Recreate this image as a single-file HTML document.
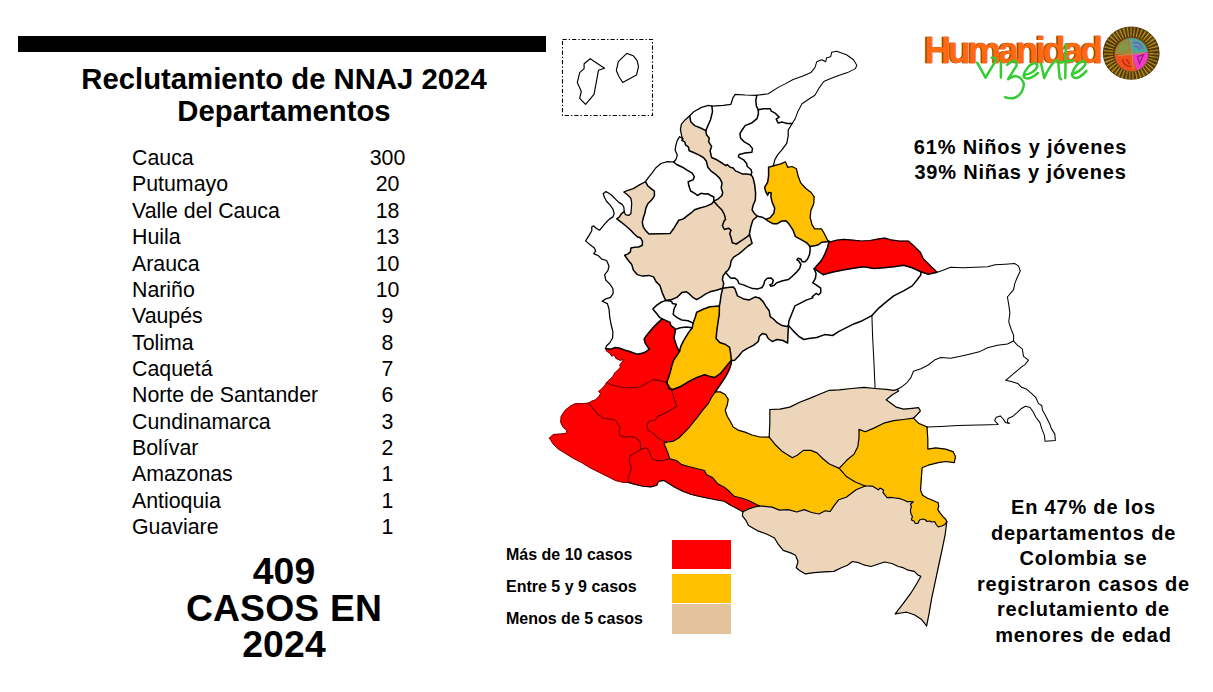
<!DOCTYPE html>
<html><head><meta charset="utf-8">
<style>
html,body{margin:0;padding:0;background:#fff;}
body{width:1213px;height:692px;position:relative;overflow:hidden;font-family:"Liberation Sans",sans-serif;color:#000;}
.abs{position:absolute;white-space:nowrap;}
#bar{left:18px;top:36px;width:528px;height:16px;background:#000;}
#title{left:0;width:568px;top:62.8px;text-align:center;font-weight:bold;font-size:29.3px;line-height:32px;}
#tbl{left:132px;top:145.1px;font-size:21.33px;line-height:26.36px;}
#nums{left:337.5px;width:100px;top:145.1px;font-size:21.33px;line-height:26.36px;text-align:center;}
#big{left:84px;width:400px;top:553.3px;text-align:center;font-weight:bold;font-size:37.33px;letter-spacing:0.15px;line-height:36.4px;}
.leg{font-weight:bold;font-size:16px;line-height:20px;left:506px;}
.sw{left:672px;width:59px;}
#pct{left:865.5px;width:310px;top:135px;text-align:center;font-weight:bold;font-size:20px;letter-spacing:0.81px;line-height:25.1px;}
#note{left:933.5px;width:300px;top:495.1px;text-align:center;font-weight:bold;font-size:20px;letter-spacing:0.81px;line-height:25.56px;}
</style></head><body>
<div id="bar" class="abs"></div>
<div id="title" class="abs">Reclutamiento de NNAJ 2024<br>Departamentos</div>
<div id="tbl" class="abs">Cauca<br>Putumayo<br>Valle del Cauca<br>Huila<br>Arauca<br>Nariño<br>Vaupés<br>Tolima<br>Caquetá<br>Norte de Santander<br>Cundinamarca<br>Bolívar<br>Amazonas<br>Antioquia<br>Guaviare</div>
<div id="nums" class="abs">300<br>20<br>18<br>13<br>10<br>10<br>9<br>8<br>7<br>6<br>3<br>2<br>1<br>1<br>1</div>
<div id="big" class="abs">409<br>CASOS EN<br>2024</div>
<div class="abs leg" style="top:545.2px">Más de 10 casos</div>
<div class="abs leg" style="top:577.2px">Entre 5 y 9 casos</div>
<div class="abs leg" style="top:609px">Menos de 5 casos</div>
<div class="abs sw" style="top:540px;height:29px;background:#ff0000"></div>
<div class="abs sw" style="top:574px;height:29px;background:#ffc000"></div>
<div class="abs sw" style="top:604px;height:30px;background:#e4c29c"></div>
<div id="pct" class="abs">61% Niños y jóvenes<br>39% Niñas y jóvenes</div>
<div id="note" class="abs">En 47% de los<br>departamentos de<br>Colombia se<br>registraron casos de<br>reclutamiento de<br>menores de edad</div>
<svg class="abs" style="left:0;top:0" width="1213" height="692" viewBox="0 0 1213 692">
<rect x="562.5" y="39.5" width="90" height="76" fill="none" stroke="#000" stroke-width="1.1" stroke-dasharray="4.2 2 1.4 2"/>
<polygon fill="#ecd5b9" stroke="#ecd5b9" stroke-width="0.6" points="689.7,115.7 685.3,119.7 681.4,124.1 680.4,129.6 681.8,136.5 682.8,138.8 681.8,140.4 684.8,141.9 685.5,144.9 688.5,147.1 689.2,150.8 693,152.3 698.2,154.6 703.4,157.5 706.4,161.3 707.8,167.2 710.8,170.9 716,174.7 719.8,178.4 722,182.9 721.2,188.1 722.7,192.5 722,195.5 718.3,198.8 713.8,201.2 717.7,205.7 721.7,209.7 724.3,214.3 725.6,219.6 724.4,220.3 722.4,225.6 724.4,229.5 728.4,228.2 731,230.2 729.7,233.5 731,237.4 732.3,242.7 736.3,244 742.2,240.1 746.2,237.4 749.5,234.8 749.5,233.5 750.8,226.9 752.8,220.3 757.3,216.2 754.7,213.8 752.1,209.8 753,205.5 755.3,200.3 755.6,193.4 754.7,184.7 753,177.7 751,174.7 746.6,173.9 742.1,173.9 739.1,172.4 735.4,170.9 733.2,168 730.2,167.2 727.2,164.5 725.7,165.7 722.7,163.5 716.8,159.8 711.6,157.5 710.1,150.8 711.6,146.4 708.6,141.9 709.3,138.2 706.4,134.5 705.8,130.6 700.6,128 694.7,125.6 690.7,121.7 689.7,115.7"/>
<polygon fill="#ecd5b9" stroke="#ecd5b9" stroke-width="0.6" points="645.5,181.7 639.9,184.6 633.3,188.6 628,190.3 623.8,192.1 627.4,194.8 630.9,198.2 631.7,203.1 631.3,209 630.9,213.6 628.7,215.4 625.4,214.6 624.3,211.7 621.4,213.6 619.5,216.9 616.8,218.9 620.8,221.9 625.4,225.5 630,229.5 634,233.8 637.3,236.7 640.6,238 642.5,241.3 642.3,245.3 638.6,247 634.6,247.3 630.9,247.9 630.4,251.9 628,253.9 624.7,255.2 627.8,259.7 631.7,264.4 633.3,269.9 637.2,274.6 642.7,276.1 648.9,275.4 653.6,276.9 656,281.6 659.9,285.5 662.2,292.6 664.6,298.1 665.8,300.4 671.6,299.6 677.1,297.3 681.8,292.6 686.5,291.8 689.6,294.2 692.8,297.3 696.7,299.6 700.6,297.3 705.3,294.2 710,291.8 716.3,290.2 722.7,288.2 723.7,283.6 722.4,279.6 723.1,275.7 725.7,272.4 728.4,269.7 730.3,265.8 731,261.2 733.6,257.2 738.9,253.9 743.5,250 748.1,246 752.1,243.4 750.8,238.7 749.5,234.8 746.2,237.4 742.2,240.1 736.3,244 732.3,242.7 731,237.4 729.7,233.5 731,230.2 728.4,228.2 724.4,229.5 722.4,225.6 724.4,220.3 725.6,219.6 724.3,214.3 721.7,209.7 717.7,205.7 713.8,201.2 711.8,203.7 705.9,206.4 699.9,208 694.6,209.7 691.4,212.7 687.4,215.6 683.4,218.9 678.8,220.2 676.8,223.5 673.5,228.8 670.2,233.4 659.7,233.8 649.1,234.1 645.8,230.8 643.2,226.8 642.3,222.2 643.2,218.3 644.9,213 645.8,208.4 647.8,203.7 651.8,199.8 654.4,195.8 654.4,191.2 651.1,188.6 647.8,185.9 645.5,181.7"/>
<polygon fill="#ffc000" stroke="#ffc000" stroke-width="0.6" points="773.3,165.9 780.8,163.9 785.4,161.8 787.7,167.3 792,166.5 796.4,168.7 798.1,176 800.7,182.9 805.9,188.5 811.1,192.5 814.2,196.8 813.7,203.8 810.8,210.7 810.2,217.6 812,224.6 814.6,228.9 821.5,228.9 824.1,233.2 827.6,240.2 829.1,241.4 821.5,242.3 818,245 814.6,245.7 810,246.6 806.8,242.8 800.7,239.3 795.5,236.7 792.9,229.8 789.4,224.6 786,220.8 781.6,221.1 777.3,223.7 772.9,223.7 768.6,221.4 766,219.4 770.3,217.6 773.8,213.3 774.7,208.1 772.1,202 770.9,196.8 771.2,193 768.6,192.5 767.7,195.4 765.7,191.6 764.6,187.3 767.7,182.1 768.6,176 768.6,167.3 773.3,165.9"/>
<polygon fill="#ff0000" stroke="#ff0000" stroke-width="0.6" points="829.1,241.4 830.2,241.9 837.1,240.2 844,239.3 852.7,240.2 861.4,241 870.1,240.5 878.7,238.8 884.8,238.1 890.9,239.8 899.5,241 908.2,241 913.4,245.4 920.3,252.3 923.3,258.7 930.8,266.1 937.2,272.3 928.3,274.2 920.9,271.8 912.2,267.8 903.6,265.3 893.7,266.8 883.8,267.8 873.9,268.5 864,266.8 856.6,267.8 844.2,269.8 831.8,272.3 823.2,274.7 814.2,268.7 817.4,265.1 821.4,260.5 824.6,254.6 827.3,248 829.1,241.4"/>
<polygon fill="#ecd5b9" stroke="#ecd5b9" stroke-width="0.6" points="722.7,288.2 721,295.7 720.2,302 719.4,305.9 719.3,313.8 718.1,321.7 716.7,331.6 716.1,338.5 719.7,342.5 725.6,344.5 729.6,347.4 730.6,353.4 731.4,360.4 734.6,360.3 738.5,356.3 742.5,351.4 747.4,348.4 753.4,345.4 758.3,341.5 759.3,336.5 762.3,333.6 766.2,334.6 768.2,338.5 772.2,341.5 777.1,339.5 783.1,340.5 787.6,343.1 788,333.6 788.4,325.6 787,326.6 782.1,325.6 777.1,322.7 774.2,319.7 770.2,316.7 769.2,310.8 766.2,306.8 763.3,301.9 759.3,297.9 755.3,296.9 749.4,299.9 743.5,298.9 737.5,295.9 735,288.9 733,286.9 727.7,287.5 722.7,288.2"/>
<polygon fill="#ffc000" stroke="#ffc000" stroke-width="0.6" points="693.1,323.1 695.1,317.7 696.7,312.2 703.7,309 710,306.7 719.4,305.9 719.3,313.8 718.1,321.7 716.7,331.6 716.1,338.5 719.7,342.5 725.6,344.5 729.6,347.4 730.6,353.4 731.4,360.4 729.2,362.8 725.2,367.7 720.3,373.7 714.4,377.6 710.4,376.6 704.5,374.7 696.5,377.6 688.6,381.6 680.7,386.5 672.8,389.5 668.8,388.5 666.8,382.6 667.8,379.6 669.8,373.7 671.8,365.7 673.8,359.8 676.7,355.8 679.5,351.3 681,345.8 684.2,339.6 688.1,333.3 692.2,327.8 693.1,323.1"/>
<polygon fill="#ff0000" stroke="#ff0000" stroke-width="0.6" points="605.5,348.5 606.7,351.2 609.8,353.2 611.8,356.2 614.3,354.7 615.8,358.3 619.9,360.3 623.9,359.3 621.9,362.3 619.9,364.8 620.4,367.4 617.8,369.9 614.8,372.9 612.8,376.5 609.8,379.5 606.6,382.6 613.4,385.5 623.3,387.5 633.2,387.9 641.1,386.5 648,382.6 653,379.6 659.9,380.6 666.8,382.6 667.8,379.6 669.8,373.7 671.8,365.7 673.8,359.8 676.7,355.8 679.5,351.3 677.1,347.4 675.5,342.7 674,338 674.8,333.3 675.5,329.4 674,327.8 670.8,325.5 670.1,322.4 666.2,320.8 662.2,318.9 658.3,322.4 653.6,327.1 648.9,332.5 645.8,336.5 644.2,339 645.2,343.1 647.2,346.1 649.2,349.2 646.2,351.7 642.1,353.2 637.1,354.2 633,352.7 629,351.2 624.9,350.2 619.9,348.2 614.8,347.6 610.8,349.2 605.5,348.5"/>
<polygon fill="#ff0000" stroke="#ff0000" stroke-width="0.6" points="606.6,382.6 604.7,385.6 601.7,389.1 598.6,391.2 600.6,393.7 598.6,396.7 595.6,399.8 591.5,401.3 588.5,403.1 592.6,408.2 597.6,414.2 603.7,418.3 610.8,419.3 615.8,420.3 617.8,424.3 620.4,427.4 618.9,431.4 619.9,435.5 624.9,437 631,436.5 636.1,438 640.1,441.5 640.6,445.6 640.3,450 645,447.7 648,448.7 650,453.7 652,458.6 656.9,460.6 662.9,460.6 669.8,458.8 667.8,452.7 665.8,447.7 663.9,443.4 666.8,442 663.9,441 657.9,438 653,433.1 648,430.1 647,425.1 649,421.2 655,420.2 657.9,416.2 664.9,413.3 671.8,409.3 676.7,406.3 673.8,397.4 671.8,390.5 666.8,382.6 659.9,380.6 653,379.6 648,382.6 641.1,386.5 633.2,387.9 623.3,387.5 613.4,385.5 606.6,382.6"/>
<polygon fill="#ff0000" stroke="#ff0000" stroke-width="0.6" points="588.5,403.1 582.4,403.6 575.4,403.6 570.3,406.1 565.2,410.2 561.2,416.2 560.7,422.3 563.2,427.4 566.8,430.4 566.2,433.4 560.2,434 553.1,434.5 549.5,438.1 553,443.8 557.9,448.7 565.8,453.7 573.8,458.6 581.7,462.6 589.6,467.5 599.5,472.5 609.4,477.4 615.3,480.4 623.3,482.4 628.2,482.4 628.2,477.4 630.2,472.5 631.2,467.5 629.2,461.6 630.2,455.6 635.1,452.7 640.3,450 640.6,445.6 640.1,441.5 636.1,438 631,436.5 624.9,437 619.9,435.5 618.9,431.4 620.4,427.4 617.8,424.3 615.8,420.3 610.8,419.3 603.7,418.3 597.6,414.2 592.6,408.2 588.5,403.1"/>
<polygon fill="#ff0000" stroke="#ff0000" stroke-width="0.6" points="666.8,382.6 668.8,388.5 672.8,389.5 680.7,386.5 688.6,381.6 696.5,377.6 704.5,374.7 710.4,376.6 714.4,377.6 720.3,373.7 725.2,367.7 729.2,362.8 731.4,360.4 731.2,363.8 729.2,369.7 726.2,375.6 722.3,381.6 718.3,387.5 715.3,391.9 711.4,397.4 708.4,403.4 702.5,410.3 697.5,417.2 692.6,423.2 688.6,428.1 683.7,433.1 678.7,438 672.8,441.4 666.8,442 663.9,441 657.9,438 653,433.1 648,430.1 647,425.1 649,421.2 655,420.2 657.9,416.2 664.9,413.3 671.8,409.3 676.7,406.3 673.8,397.4 671.8,390.5 666.8,382.6"/>
<polygon fill="#ff0000" stroke="#ff0000" stroke-width="0.6" points="628.2,482.4 635.1,484.4 643.1,486.3 651,486.9 656.9,485.3 658.5,481.4 663.9,480.4 668.8,483.4 674.8,487.3 682.7,491.3 690.6,494.3 698.5,496.2 708.4,498.2 718.3,500.2 724.3,501.2 730.2,505.1 736.1,508.1 742.9,511.7 748,509.1 754,507.1 759.6,505.9 754,503.2 748,500.2 742.1,498.2 734.2,496.2 729.2,491.3 724.3,487.3 717.3,483.4 712.4,477.4 706.4,474.5 704.5,470.5 696.5,468.5 688.6,466.5 681.7,464.6 676.7,460.6 669.8,458.8 662.9,460.6 656.9,460.6 652,458.6 650,453.7 648,448.7 645,447.7 640.3,450 635.1,452.7 630.2,455.6 629.2,461.6 631.2,467.5 630.2,472.5 628.2,477.4 628.2,482.4"/>
<polygon fill="#ffc000" stroke="#ffc000" stroke-width="0.6" points="715.3,391.9 720.3,391.9 725.2,394.5 728.2,399.4 727.2,405.3 725.2,410.3 727.2,416.2 730.2,421.2 733.2,427.1 738.1,430.1 745,432.1 752,435 759.9,437 769.2,437.1 774.9,444.2 782.4,451.6 792.3,457.8 797.2,455.3 803.4,450.4 810.8,450.4 817,452.9 823.2,459 829.4,464 839.2,468.4 846.7,476.8 855.3,482 865.2,486 856.1,489.8 851.2,493.5 846.2,497.2 838.8,499.7 833.9,505.9 830.2,511.5 825.2,510.8 819,514 811.6,512.5 804.2,509.6 796.8,512 788.1,509.6 779.5,510.1 772,507.1 759.6,505.9 754,503.2 748,500.2 742.1,498.2 734.2,496.2 729.2,491.3 724.3,487.3 717.3,483.4 712.4,477.4 706.4,474.5 704.5,470.5 696.5,468.5 688.6,466.5 681.7,464.6 676.7,460.6 669.8,458.8 667.8,452.7 665.8,447.7 663.9,443.4 666.8,442 672.8,441.4 678.7,438 683.7,433.1 688.6,428.1 692.6,423.2 697.5,417.2 702.5,410.3 708.4,403.4 711.4,397.4 715.3,391.9"/>
<polygon fill="#ecd5b9" stroke="#ecd5b9" stroke-width="0.6" points="769.9,409.5 779.9,409.1 789.8,407.1 799.7,402.2 809.6,398.4 819.5,394.2 829.4,390.3 839.2,389.8 851.6,388.5 864,387.3 875.1,388.5 886.2,389.3 893.7,390.3 897.4,389.3 898.6,391 892.4,394.7 886.2,399.7 891.2,403.4 896.1,407.1 903.6,409.1 912.2,408.3 918.4,407.6 920.4,410.8 917.2,414.5 913.4,418.2 903.6,419.5 893.7,420.7 883.8,423.2 873.9,428.1 865.2,431.8 859,429.4 859,438 857.8,446.7 854.1,454.1 846.7,460.3 839.2,468.4 829.4,464 823.2,459 817,452.9 810.8,450.4 803.4,450.4 797.2,455.3 792.3,457.8 782.4,451.6 774.9,444.2 769.2,437.1 769.8,423.2 769.9,409.5"/>
<polygon fill="#ffc000" stroke="#ffc000" stroke-width="0.6" points="913.4,418.2 918.4,423.2 927,426.9 927.8,439.2 927.8,449.1 935.7,447.9 945.6,449.1 953,451.6 955.5,456.6 954.3,462.7 945.6,461.5 938.2,462.7 928.3,465.2 922.1,467.7 920.5,490.1 922.5,495.2 927.6,498.2 933.6,500.7 938.2,502.8 938.7,506.8 937.7,509.3 939.7,512.4 942.7,516.4 945.8,519.5 946.8,521.5 944.8,524.5 941.7,526 938.2,527 936.2,524.5 934.6,521.5 931.6,522 929.6,521 927,521.5 925,519.5 922.5,519 919.5,520 917.9,523.5 915.4,523.5 913.9,521 911.4,520 912.4,516.4 910.9,513.4 910.4,510.4 911.4,506.3 910.4,504.3 913.4,501.8 909.8,501.5 907.3,501.8 904.3,500.2 900.2,498.7 895.2,498 891.1,497.4 887.1,497.7 885.1,495.2 883,492.6 883.5,490.1 880,488.1 878.4,489.8 872.2,486.1 865.2,486 855.3,482 846.7,476.8 839.2,468.4 846.7,460.3 854.1,454.1 857.8,446.7 859,438 859,429.4 865.2,431.8 873.9,428.1 883.8,423.2 893.7,420.7 903.6,419.5 913.4,418.2"/>
<polygon fill="#ecd5b9" stroke="#ecd5b9" stroke-width="0.6" points="759.6,505.9 772,507.1 779.5,510.1 788.1,509.6 796.8,512 804.2,509.6 811.6,512.5 819,514 825.2,510.8 830.2,511.5 833.9,505.9 838.8,499.7 846.2,497.2 851.2,493.5 856.1,489.8 865.2,486 872.2,486.1 878.4,489.8 880,488.1 883.5,490.1 883,492.6 885.1,495.2 887.1,497.7 891.1,497.4 895.2,498 900.2,498.7 904.3,500.2 907.3,501.8 909.8,501.5 913.4,501.8 910.4,504.3 911.4,506.3 910.4,510.4 910.9,513.4 912.4,516.4 911.4,520 913.9,521 915.4,523.5 917.9,523.5 919.5,520 922.5,519 925,519.5 927,521.5 929.6,521 931.6,522 934.6,521.5 936.2,524.5 938.2,527 941.7,526 944.8,524.5 946.8,521.5 945.2,534.3 942.2,549.1 939,564 935.3,581.3 931.6,598.6 929.1,613.4 926.6,625.8 921.7,619.6 914.3,614.7 906.8,612.2 900.7,613 895.2,613.9 903.1,603.6 910.5,593.7 916.7,583.8 920.9,576.3 918,575.1 914.3,571.4 908.1,570.2 903.1,567.7 898.2,566.5 892,563.5 884.6,562 878.4,564 871,566.5 864.8,565.2 858.6,562.7 852.4,561.5 847.5,565.2 841.3,567.7 833.9,571.4 824,571.9 814.1,572.6 805.4,573.9 799.2,570.2 796.3,567.7 798,561.5 795.5,555.3 790.6,552.9 783.2,550.4 778.2,544.2 774.5,538 767.1,534.3 757.2,530.6 748.5,525.6 746.1,520.7 742.4,515.8 742.9,511.7 748,509.1 754,507.1 759.6,505.9"/>
<g fill="none" stroke="#6a0000" stroke-width="1.1" stroke-linejoin="round" stroke-linecap="round">
<polyline points="666.8,382.6 671.8,390.5 673.8,397.4 676.7,406.3 671.8,409.3 664.9,413.3 657.9,416.2 655,420.2 649,421.2 647,425.1 648,430.1 653,433.1 657.9,438 663.9,441 666.8,442"/>
<polyline points="606.6,382.6 613.4,385.5 623.3,387.5 633.2,387.9 641.1,386.5 648,382.6 653,379.6 659.9,380.6 666.8,382.6"/>
<polyline points="588.5,403.1 592.6,408.2 597.6,414.2 603.7,418.3 610.8,419.3 615.8,420.3 617.8,424.3 620.4,427.4 618.9,431.4 619.9,435.5 624.9,437 631,436.5 636.1,438 640.1,441.5 640.6,445.6 640.3,450"/>
<polyline points="640.3,450 635.1,452.7 630.2,455.6 629.2,461.6 631.2,467.5 630.2,472.5 628.2,477.4 628.2,482.4"/>
<polyline points="640.3,450 645,447.7 648,448.7 650,453.7 652,458.6 656.9,460.6 662.9,460.6 669.8,458.8"/>
</g>
<g fill="none" stroke="#7a0000" stroke-width="1.0" stroke-linejoin="round" stroke-linecap="round">
<polyline points="605.5,348.5 606.7,351.2 609.8,353.2 611.8,356.2 614.3,354.7 615.8,358.3 619.9,360.3 623.9,359.3 621.9,362.3 619.9,364.8 620.4,367.4 617.8,369.9 614.8,372.9 612.8,376.5 609.8,379.5 606.6,382.6"/>
<polyline points="606.6,382.6 604.7,385.6 601.7,389.1 598.6,391.2 600.6,393.7 598.6,396.7 595.6,399.8 591.5,401.3 588.5,403.1"/>
<polyline points="588.5,403.1 582.4,403.6 575.4,403.6 570.3,406.1 565.2,410.2 561.2,416.2 560.7,422.3 563.2,427.4 566.8,430.4 566.2,433.4 560.2,434 553.1,434.5 549.5,438.1"/>
<polyline points="549.5,438.1 553,443.8 557.9,448.7 565.8,453.7 573.8,458.6 581.7,462.6 589.6,467.5 599.5,472.5 609.4,477.4 615.3,480.4 623.3,482.4 628.2,482.4"/>
</g>
<g fill="none" stroke="#000" stroke-width="1.05" stroke-linejoin="round" stroke-linecap="round">
<polyline points="937.2,272.3 943.1,270.3 950.5,267.3 962.9,267.8 975.3,267.3 987.6,266.8 995.1,264.8 1005,264.3 1014.8,263.6 1018.6,266.1 1020.3,271 1017.3,277.2 1014.8,283.4 1013.6,289.6 1007.4,297 1008.7,304.4 1009.9,313.1 1008.7,321.7 1011.1,329.1 1013.6,335.3 1013.6,341"/>
<polyline points="1013.6,341 1007.4,344 997.5,345.2 987.6,347.7 980.2,351.4 970.3,353.9 960.4,356.3 950.5,358.3 940.7,357.6 934.5,360.1 928.3,365 920.9,368.7 913.4,371.2 911,377.4 907.3,382.3 901.1,387.3 897.4,389.3"/>
<polyline points="871.9,315.6 872.6,336.6 873.9,361.3 875.1,388.5"/>
<polyline points="927,426.9 940.7,426.4 958,425.6 977.7,424.9 980,425 998.2,424.4 996.9,423.1 994.6,420.5 996.3,417.2 1000.2,415.9 1002.8,418.5 1005.4,422.4 1009.3,423.5 1007.3,421.8 1008,418.5 1012.5,416.6 1017.1,412.7 1021,408.8 1025.5,406.2 1030.1,407.5 1033.3,412 1035.9,417.2 1039.8,422.4 1041.8,428.9 1044.4,435.4 1045,441.3 1055.4,440.6 1054.8,434.1 1051.5,428.9 1049.6,423.7 1047.6,419.8 1045,414.6 1042.4,410.1 1041.8,405.5 1038.5,403.6 1035.9,397.7 1032,393.8 1026.8,389.3 1021.6,387.3 1017.7,383.4 1011.2,381.5 1006,380.2"/>
<polyline points="1013.6,341 1017.3,345.2 1022.3,348.9 1023.5,356.3 1028.5,360.1 1024.7,365 1022.9,365.9 1015.1,372.4 1006,380.2"/>
</g>
<g fill="none" stroke="#000" stroke-width="1.2" stroke-linejoin="round" stroke-linecap="round">
<polyline points="715.3,391.9 720.3,391.9 725.2,394.5 728.2,399.4 727.2,405.3 725.2,410.3 727.2,416.2 730.2,421.2 733.2,427.1 738.1,430.1 745,432.1 752,435 759.9,437 769.2,437.1"/>
<polyline points="769.2,437.1 769.8,423.2 769.9,409.5"/>
<polyline points="742.9,511.7 748,509.1 754,507.1 759.6,505.9"/>
<polyline points="769.9,409.5 779.9,409.1 789.8,407.1 799.7,402.2 809.6,398.4 819.5,394.2 829.4,390.3 839.2,389.8 851.6,388.5 864,387.3 875.1,388.5"/>
<polyline points="875.1,388.5 886.2,389.3 893.7,390.3 897.4,389.3"/>
<polyline points="897.4,389.3 898.6,391 892.4,394.7 886.2,399.7 891.2,403.4 896.1,407.1 903.6,409.1 912.2,408.3 918.4,407.6 920.4,410.8 917.2,414.5 913.4,418.2"/>
<polyline points="913.4,418.2 903.6,419.5 893.7,420.7 883.8,423.2 873.9,428.1 865.2,431.8 859,429.4 859,438 857.8,446.7 854.1,454.1 846.7,460.3 839.2,468.4"/>
<polyline points="913.4,418.2 918.4,423.2 927,426.9"/>
<polyline points="927,426.9 927.8,439.2 927.8,449.1 935.7,447.9 945.6,449.1 953,451.6 955.5,456.6 954.3,462.7 945.6,461.5 938.2,462.7 928.3,465.2 922.1,467.7 920.5,490.1 922.5,495.2 927.6,498.2 933.6,500.7 938.2,502.8 938.7,506.8 937.7,509.3 939.7,512.4 942.7,516.4 945.8,519.5 946.8,521.5"/>
<polyline points="865.2,486 872.2,486.1 878.4,489.8 880,488.1 883.5,490.1 883,492.6 885.1,495.2 887.1,497.7 891.1,497.4 895.2,498 900.2,498.7 904.3,500.2 907.3,501.8 909.8,501.5 913.4,501.8 910.4,504.3 911.4,506.3 910.4,510.4 910.9,513.4 912.4,516.4 911.4,520 913.9,521 915.4,523.5 917.9,523.5 919.5,520 922.5,519 925,519.5 927,521.5 929.6,521 931.6,522 934.6,521.5 936.2,524.5 938.2,527 941.7,526 944.8,524.5 946.8,521.5"/>
<polyline points="839.2,468.4 846.7,476.8 855.3,482 865.2,486"/>
<polyline points="769.2,437.1 774.9,444.2 782.4,451.6 792.3,457.8 797.2,455.3 803.4,450.4 810.8,450.4 817,452.9 823.2,459 829.4,464 839.2,468.4"/>
<polyline points="759.6,505.9 772,507.1 779.5,510.1 788.1,509.6 796.8,512 804.2,509.6 811.6,512.5 819,514 825.2,510.8 830.2,511.5 833.9,505.9 838.8,499.7 846.2,497.2 851.2,493.5 856.1,489.8 865.2,486"/>
<polyline points="946.8,521.5 945.2,534.3 942.2,549.1 939,564 935.3,581.3 931.6,598.6 929.1,613.4 926.6,625.8"/>
<polyline points="926.6,625.8 921.7,619.6 914.3,614.7 906.8,612.2 900.7,613 895.2,613.9 903.1,603.6 910.5,593.7 916.7,583.8 920.9,576.3 918,575.1 914.3,571.4 908.1,570.2 903.1,567.7 898.2,566.5 892,563.5 884.6,562 878.4,564 871,566.5 864.8,565.2 858.6,562.7 852.4,561.5 847.5,565.2 841.3,567.7 833.9,571.4 824,571.9 814.1,572.6 805.4,573.9 799.2,570.2 796.3,567.7 798,561.5 795.5,555.3 790.6,552.9 783.2,550.4 778.2,544.2 774.5,538 767.1,534.3 757.2,530.6 748.5,525.6 746.1,520.7 742.4,515.8 742.9,511.7"/>
</g>
<g fill="none" stroke="#000" stroke-width="1.15" stroke-linejoin="round" stroke-linecap="round">
<polyline points="590.2,58.7 604.5,68.2 598.5,70.2 594,94.4 585.6,104.3 579.7,98.3 581.3,91.4 577.3,82.5 579.7,72.6 584.1,68.6 584.1,63.7 590.2,58.7"/>
<polyline points="626.8,53.4 633.2,55.7 637.1,60.7 638.5,66.6 636.5,75.1 622.7,82.5 618.9,76.5 616.3,70.6 618.3,61.7 626.8,53.4"/>
<polyline points="715.3,391.9 711.4,397.4 708.4,403.4 702.5,410.3 697.5,417.2 692.6,423.2 688.6,428.1 683.7,433.1 678.7,438 672.8,441.4 666.8,442"/>
<polyline points="628.2,482.4 635.1,484.4 643.1,486.3 651,486.9 656.9,485.3 658.5,481.4 663.9,480.4 668.8,483.4 674.8,487.3 682.7,491.3 690.6,494.3 698.5,496.2 708.4,498.2 718.3,500.2 724.3,501.2 730.2,505.1 736.1,508.1 742.9,511.7"/>
<polyline points="669.8,458.8 676.7,460.6 681.7,464.6 688.6,466.5 696.5,468.5 704.5,470.5 706.4,474.5 712.4,477.4 717.3,483.4 724.3,487.3 729.2,491.3 734.2,496.2 742.1,498.2 748,500.2 754,503.2 759.6,505.9"/>
<polyline points="666.8,442 663.9,443.4 665.8,447.7 667.8,452.7 669.8,458.8"/>
</g>
<g fill="none" stroke="#000" stroke-width="1.05" stroke-linejoin="round" stroke-linecap="round">
<polyline points="756.8,95.3 768.3,93.8 778.2,87.4 785.1,83.9 793.1,79.5 803,75.9 810.9,72.6 814.9,67.6 816.8,61.7 821.8,59.7 825.7,61.7 826.7,57.7 830.7,56.7 831.7,52.2 836.6,51.2 846.5,54.8 853.5,59.7 856.8,65.2 855.4,68.6 847.5,72.6 838.6,75.5 830.7,78.5 823.8,81.5 818.8,88.4 814.9,95.3 807.9,99.7 802,103.7 798,111.2 795,119.1 792.1,123.5"/>
</g>
<g fill="none" stroke="#000" stroke-width="1.25" stroke-linejoin="round" stroke-linecap="round">
<polyline points="689.7,115.7 693.7,111.8 701.6,107.4 708.5,105.4 711.9,106.2"/>
<polyline points="711.9,106.2 723.4,105.4 730.9,104.3 732.9,97.9 735.2,94.4 745.1,95 756.8,95.3"/>
<polyline points="689.7,115.7 685.3,119.7 681.4,124.1 680.4,129.6 681.8,136.5 682.8,138.8"/>
<polyline points="682.8,138.8 679.6,136.7 677.3,140.4 675.8,145.6 675.1,150.1 677.3,155.3 675.8,159.8 673.6,162"/>
<polyline points="673.6,162 667.6,161.6 660.9,163.5 655.7,168 652,173.2 648.3,177.6 645.5,181.7"/>
<polyline points="645.5,181.7 639.9,184.6 633.3,188.6 628,190.3 623.8,192.1 627.4,194.8 630.9,198.2 631.7,203.1 631.3,209 630.9,213.6 628.7,215.4 625.4,214.6 624.3,211.7"/>
<polyline points="773.3,165.9 780.8,163.9 785.4,161.8 787.7,167.3 792,166.5 796.4,168.7 798.1,176 800.7,182.9 805.9,188.5 811.1,192.5 814.2,196.8 813.7,203.8 810.8,210.7 810.2,217.6 812,224.6 814.6,228.9 821.5,228.9 824.1,233.2 827.6,240.2 829.1,241.4"/>
<polyline points="829.1,241.4 830.2,241.9 837.1,240.2 844,239.3 852.7,240.2 861.4,241 870.1,240.5 878.7,238.8 884.8,238.1 890.9,239.8 899.5,241 908.2,241 913.4,245.4 920.3,252.3 923.3,258.7 930.8,266.1 937.2,272.3"/>
<polyline points="624.3,211.7 623.8,207 622.1,204.4 618.8,202.4 615.5,199.1 612.2,195.8 608.9,193.2 605.9,191.6 603.2,193.8 604.6,197.8 606.9,201.8 610.2,205.1 612.9,209 614.2,213.6 612.9,216.9 609.6,218.9 606.3,222.2 603,226.2 599.7,230.1 596.4,228.5 593.7,225.9 591.8,226.8 591.8,230.8 589.1,235.4 585.6,240.9 589.8,244.6 594.4,247.9 595.7,251.2 593.7,253.6 598.4,255.8 601.7,259.1 606.6,260.5 609,266 607.9,270.7 604.7,274.6 605.8,280.1 609.8,284 612.9,288.7 613.2,293.4 610.5,297.3 605.8,298.9 602.2,301.2 607.4,303.6 609,309 609.8,317.7 611.3,325.5 612.9,331.8 612.6,338 609.8,342.7 606.6,345.8 605.5,348.5"/>
<polyline points="792.1,123.5 790.1,127 788.2,130 788.2,136 786.7,143.4 782.3,149.4 777.8,154.6 774.8,159.8 773.3,165.9"/>
</g>
<g fill="none" stroke="#000" stroke-width="1.5" stroke-linejoin="round" stroke-linecap="round">
<polyline points="792.1,123.5 787.1,123.5 782.2,122.1 778.2,123.1 776.2,119.1 779.2,117.1 775.2,113.2 771.3,111.2 770.3,108.8 763.4,108.8 758.3,109.8"/>
<polyline points="758.3,109.8 756.4,106.2 755.8,100.3 756.8,95.3"/>
<polyline points="711.9,106.2 712.5,111.8 710.5,119.7 707.5,126.6 705.8,130.6"/>
<polyline points="689.7,115.7 690.7,121.7 694.7,125.6 700.6,128 705.8,130.6"/>
<polyline points="673.6,162 676.6,164.5 682.5,167.2 687,170.2 692.2,173.2 694.4,176.9 693,179.9 688.2,181.8 688.8,185.8 690.7,191 695.2,193.7 697.4,195.5 701.1,193.3 704.9,194 707.8,193.7 710.8,195.5 713.8,197 713.8,201.2"/>
<polyline points="682.8,138.8 681.8,140.4 684.8,141.9 685.5,144.9 688.5,147.1 689.2,150.8 693,152.3 698.2,154.6 703.4,157.5 706.4,161.3 707.8,167.2 710.8,170.9 716,174.7 719.8,178.4 722,182.9 721.2,188.1 722.7,192.5 722,195.5 718.3,198.8 713.8,201.2"/>
<polyline points="705.8,130.6 706.4,134.5 709.3,138.2 708.6,141.9 711.6,146.4 710.1,150.8 711.6,157.5 716.8,159.8 722.7,163.5 725.7,165.7 727.2,164.5 730.2,167.2 733.2,168 735.4,170.9 739.1,172.4 742.1,173.9 746.6,173.9 751,174.7"/>
<polyline points="773.3,165.9 768.6,167.3 768.6,176 767.7,182.1 764.6,187.3 765.7,191.6 767.7,195.4 768.6,192.5 771.2,193 770.9,196.8 772.1,202 774.7,208.1 773.8,213.3 770.3,217.6 766,219.4"/>
<polyline points="757.3,216.2 762.5,217.3 766,219.4"/>
<polyline points="751,174.7 753,177.7 754.7,184.7 755.6,193.4 755.3,200.3 753,205.5 752.1,209.8 754.7,213.8 757.3,216.2"/>
<polyline points="766,219.4 768.6,221.4 772.9,223.7 777.3,223.7 781.6,221.1 786,220.8 789.4,224.6 792.9,229.8 795.5,236.7 800.7,239.3 806.8,242.8 810,246.6"/>
<polyline points="810,246.6 814.6,245.7 818,245 821.5,242.3 829.1,241.4"/>
<polyline points="757.3,216.2 752.8,220.3 750.8,226.9 749.5,233.5 749.5,234.8"/>
<polyline points="749.5,234.8 750.8,238.7 752.1,243.4 748.1,246 743.5,250 738.9,253.9 733.6,257.2 731,261.2 730.3,265.8 728.4,269.7 725.7,272.4"/>
<polyline points="725.7,272.4 728.4,275.7 731,278.3 735,278.1 737.6,280.3 738.9,283.6 743.5,284.9 748.1,286.9 752.8,288.6 758,288.9 762,287.5 764,284.2 764.6,281 767.3,278.3 771.2,278.1 773.2,280.3 772.5,283.6 769.9,284.9 770.6,286.2 773.9,285.6 776.5,282.9 781.8,281 788.4,279.6 792.3,276.3 796.3,272.4 799.6,268.4 800.9,264.5 798.9,261.2 796.9,259.8 798.3,258.3 800.9,259.2 802.2,261.8 804.9,261.8 807.5,259.2 809.5,254.6 810.1,250.6 810,246.6"/>
<polyline points="829.1,241.4 827.3,248 824.6,254.6 821.4,260.5 817.4,265.1 814.2,268.7"/>
<polyline points="725.7,272.4 723.1,275.7 722.4,279.6 723.7,283.6 722.7,288.2"/>
<polyline points="645.5,181.7 647.8,185.9 651.1,188.6 654.4,191.2 654.4,195.8 651.8,199.8 647.8,203.7 645.8,208.4 644.9,213 643.2,218.3 642.3,222.2 643.2,226.8 645.8,230.8 649.1,234.1 659.7,233.8 670.2,233.4 673.5,228.8 676.8,223.5 678.8,220.2 683.4,218.9 687.4,215.6 691.4,212.7 694.6,209.7 699.9,208 705.9,206.4 711.8,203.7 713.8,201.2"/>
<polyline points="665.8,300.4 661.5,302 656.8,305.1 652.8,309 656.8,313.7 659.9,317.7 662.2,318.9"/>
<polyline points="662.2,318.9 658.3,322.4 653.6,327.1 648.9,332.5 645.8,336.5 644.2,339 645.2,343.1 647.2,346.1 649.2,349.2 646.2,351.7 642.1,353.2 637.1,354.2 633,352.7 629,351.2 624.9,350.2 619.9,348.2 614.8,347.6 610.8,349.2 605.5,348.5"/>
<polyline points="662.2,318.9 666.2,320.8 670.1,322.4 670.8,325.5 674,327.8 675.5,329.4"/>
<polyline points="675.5,329.4 674.8,333.3 674,338 675.5,342.7 677.1,347.4 679.5,351.3"/>
<polyline points="665.8,300.4 671.6,301.2 672.4,303.6 676.3,304.3 674,309 673.2,314.5 677.1,317.7 681.8,320 688.1,320.8 693.1,323.1"/>
<polyline points="675.5,329.4 680.2,327.8 686.5,327.1 692.2,327.8"/>
<polyline points="693.1,323.1 692.2,327.8"/>
<polyline points="692.2,327.8 688.1,333.3 684.2,339.6 681,345.8 679.5,351.3"/>
<polyline points="665.8,300.4 671.6,299.6 677.1,297.3 681.8,292.6 686.5,291.8 689.6,294.2 692.8,297.3 696.7,299.6 700.6,297.3 705.3,294.2 710,291.8 716.3,290.2 722.7,288.2"/>
<polyline points="722.7,288.2 721,295.7 720.2,302 719.4,305.9"/>
<polyline points="693.1,323.1 695.1,317.7 696.7,312.2 703.7,309 710,306.7 719.4,305.9"/>
<polyline points="719.4,305.9 719.3,313.8 718.1,321.7 716.7,331.6 716.1,338.5 719.7,342.5 725.6,344.5 729.6,347.4 730.6,353.4 731.4,360.4"/>
<polyline points="679.5,351.3 676.7,355.8 673.8,359.8 671.8,365.7 669.8,373.7 667.8,379.6 666.8,382.6"/>
<polyline points="666.8,382.6 668.8,388.5 672.8,389.5 680.7,386.5 688.6,381.6 696.5,377.6 704.5,374.7 710.4,376.6 714.4,377.6 720.3,373.7 725.2,367.7 729.2,362.8 731.4,360.4"/>
<polyline points="731.4,360.4 731.2,363.8 729.2,369.7 726.2,375.6 722.3,381.6 718.3,387.5 715.3,391.9"/>
<polyline points="814.2,268.7 823.2,274.7 831.8,272.3 844.2,269.8 856.6,267.8 864,266.8 873.9,268.5 883.8,267.8 893.7,266.8 903.6,265.3 912.2,267.8 920.9,271.8"/>
<polyline points="920.9,271.8 928.3,274.2 937.2,272.3"/>
<polyline points="871.9,315.6 878.8,308.1 886.2,301.9 893.7,295.8 903.6,290.8 912.2,285.9 917.2,279.7 920.9,274.7 920.9,271.8"/>
<polyline points="788.4,325.6 793,330.6 798.9,336.5 803.9,339.5 808.8,338.5 816.7,337.5 824.7,334.6 832.6,335.5 838.5,331.6 846.4,327.6 854.4,323.7 862.3,320.7 871.9,315.6"/>
<polyline points="788.4,325.6 788,333.6 787.6,343.1 783.1,340.5 777.1,339.5 772.2,341.5 768.2,338.5 766.2,334.6 762.3,333.6 759.3,336.5 758.3,341.5 753.4,345.4 747.4,348.4 742.5,351.4 738.5,356.3 734.6,360.3 731.4,360.4"/>
<polyline points="624.3,211.7 621.4,213.6 619.5,216.9 616.8,218.9 620.8,221.9 625.4,225.5 630,229.5 634,233.8 637.3,236.7 640.6,238 642.5,241.3 642.3,245.3 638.6,247 634.6,247.3 630.9,247.9 630.4,251.9 628,253.9 624.7,255.2 627.8,259.7 631.7,264.4 633.3,269.9 637.2,274.6 642.7,276.1 648.9,275.4 653.6,276.9 656,281.6 659.9,285.5 662.2,292.6 664.6,298.1 665.8,300.4"/>
<polyline points="713.8,201.2 717.7,205.7 721.7,209.7 724.3,214.3 725.6,219.6 724.4,220.3 722.4,225.6 724.4,229.5 728.4,228.2 731,230.2 729.7,233.5 731,237.4 732.3,242.7 736.3,244 742.2,240.1 746.2,237.4 749.5,234.8"/>
<polyline points="758.3,109.8 758.4,113.8 757,118.7 752.1,122.7 745.1,125.6 742.1,130 739.9,133.7 740.6,138.2 744.3,141.9 749.5,144.9 752.5,148.6 751.8,152.3 745.1,153.1 739.1,154.6 738.4,156.8 743.6,159.8 746.6,163.5 747.3,166.5 751,169.5 751.8,172.4 751,174.7"/>
<polyline points="722.7,288.2 727.7,287.5 733,286.9 735,288.9 737.5,295.9 743.5,298.9 749.4,299.9 755.3,296.9 759.3,297.9 763.3,301.9 766.2,306.8 769.2,310.8 770.2,316.7 774.2,319.7 777.1,322.7 782.1,325.6 787,326.6 788.4,325.6"/>
<polyline points="814.2,268.7 816.1,273.7 815.4,278.3 812.8,282.9 816.1,284.9 820.7,288.2 820.7,292.8 818.7,294.8 816.1,293.5 812.1,296.8 812.8,297.9 806.8,299.9 800.9,302.9 795,305.8 793,310.8 791,315.7 789,320.7 788.4,325.6"/>
</g>
<g id="logo">
<g font-family="Liberation Sans, sans-serif" font-weight="bold" font-size="37.4" letter-spacing="-3.1">
<text x="923.0" y="62.6" fill="#7a3a08" stroke="#7a3a08" stroke-width="0.6">Humanidad</text>
<text x="924.2" y="62.6" fill="#ff6a10" stroke="#ff6a10" stroke-width="0.6">Humanidad</text>
</g>
<g fill="none" stroke="#33cc33" stroke-width="2.5" stroke-linecap="round" stroke-linejoin="round">
<path d="M977.2 62.7 L985.5 77.6 L995.8 60.6 Q994.5 56.5 991.6 57.8"/>
<path d="M1000.9 61.6 L1000.9 77.6"/>
<path d="M1007.1 64.7 Q1011 61.5 1014.3 60.6 Q1017.5 62 1016.4 65.8 L1008.1 79.2 Q1012 76.5 1015.3 76.1 Q1019.5 76.5 1021.5 79.2 Q1024.5 83 1023.6 86.4 Q1022.5 91.5 1019.5 94.6 Q1016.5 97.5 1013.3 98.2 Q1009 98.8 1005 97.2"/>
<path d="M1023.6 75 Q1028 74.5 1030.8 73 Q1034.5 71 1036 68.9 Q1038 66.5 1037 64.7 Q1035.5 62.5 1032.9 63.7 Q1029.5 65 1027.7 67.8 Q1024.5 71.5 1023.6 75 Q1023.5 77.5 1025.6 78.1 Q1028 79 1030.8 77.6 Q1034.5 76 1038 73"/>
<path d="M1041.1 63.7 L1044.2 78.1 Q1046 73.5 1048.3 69.9 Q1051 65 1054.5 61.6 Q1056.5 59.8 1057.6 60.6 Q1058.6 62 1058.6 66.8 L1059.7 78.1 L1061.2 79.2"/>
<path d="M1065.8 44.1 L1065.3 78.1 M1060.7 62.2 L1073 60.6"/>
<path d="M1072 74 Q1076 73 1079.2 70.9 Q1082.5 68.5 1084.4 65.8 Q1086 63.5 1084.9 62.2 Q1083.5 60.8 1081.3 61.6 Q1078.5 62.8 1076.1 65.8 Q1073 70 1072 74 Q1072 76.8 1074.1 77.6 Q1076.5 78.5 1079.2 77.1 Q1083 75 1086.4 70.9"/>
</g>
<ellipse cx="1131.2" cy="53.2" rx="28.4" ry="26.6" fill="#4e340a"/>
<ellipse cx="1131.2" cy="53.2" rx="22.8" ry="21.3" fill="none" stroke="#b8921c" stroke-width="9.5" stroke-dasharray="1.3 1.9"/>
<ellipse cx="1131.2" cy="53.2" rx="24.5" ry="23" fill="none" stroke="#7a5a12" stroke-width="5" stroke-dasharray="0.9 2.9" opacity="0.8"/>
<g transform="translate(1131.5 54.6)">
<circle r="17.4" fill="#7a5a20"/>
<path d="M0 0 L-16.5 0 A16.5 16.5 0 0 1 -3 -16.2 Z" fill="#9c8a3c"/>
<path d="M0 0 L-3 -16.2 A16.5 16.5 0 0 1 16.3 -2.5 Z" fill="#4aa79c"/>
<path d="M0 0 L16.3 -2.5 A16.5 16.5 0 0 1 5 15.7 Z" fill="#f23cc8"/>
<path d="M0 0 L5 15.7 A16.5 16.5 0 0 1 -16.5 0 Z" fill="#f0501e"/>
<g fill="none" stroke-width="1.3" stroke-linecap="round">
<path d="M-11 -3 Q-12 -10 -5 -11 M-8 -5 L-4 -8" stroke="#58b05a"/>
<path d="M2 -12 Q9 -13 11 -6 M3 -8 Q7 -9 8 -5" stroke="#7a58c8"/>
<path d="M6 2 L12 0 L8 9 Z" stroke="#a0188c"/>
<path d="M-9 5 Q-8 11 -1 12 M-5 5 L-2 9" stroke="#c02808"/>
<path d="M-13 1 L13 -2 M-1 -14 L2 14" stroke="#c08a50" stroke-width="1.1"/>
</g>
</g>
</g>

</svg>
</body></html>
